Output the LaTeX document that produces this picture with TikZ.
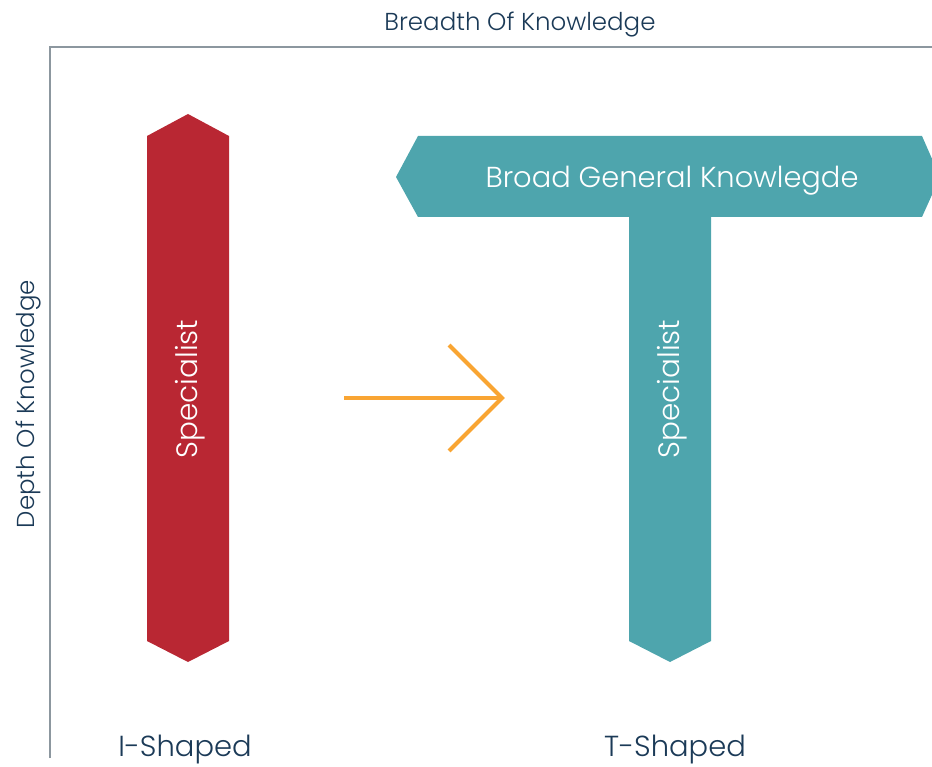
\documentclass[tikz,border=0pt]{standalone}
\usepackage{fontspec}
\IfFontExistsTF{Poppins Light}{\setmainfont{Poppins Light}}{\setmainfont{Poppins}}
\definecolor{barred}{HTML}{B92733}
\definecolor{barteal}{HTML}{4EA5AD}
\definecolor{arroworange}{HTML}{F9A533}
\definecolor{navytext}{HTML}{1B3A57}
\definecolor{axisgray}{HTML}{8C979F}
\begin{document}
\begin{tikzpicture}[x=1pt,y=-1pt,
  axisline/.style={draw=axisgray,line width=2pt},
  axislabel/.style={text=navytext,font=\fontsize{24.5}{28}\selectfont,inner sep=0pt},
  shapelabel/.style={text=navytext,font=\fontsize{29}{33}\selectfont,inner sep=0pt},
  barlabel/.style={text=white,font=\fontsize{29.5}{33}\selectfont,inner sep=0pt,rotate=90},
  movearrow/.style={draw=arroworange,line width=4pt}]
\useasboundingbox (0,0) rectangle (932,767);
% axes
\coordinate (ybottom) at (50,758);
\coordinate (origin) at (50,47);
\coordinate (xend) at (932,47);
\draw[axisline] (ybottom) -- (origin) -- (xend);
\node[axislabel] (breadth) at (520,25) {Breadth Of Knowledge};
\node[axislabel,rotate=90] (depth) at (29,404) {Depth Of Knowledge};
% I-shaped bar
\fill[barred] (147,136) -- (188,114) -- (229,136) -- (229,641) -- (188,662) -- (147,641) -- cycle;
\node[barlabel] (ispec) at (190,389) {Specialist};
% T-shaped bar
\fill[barteal] (418,136) -- (922,136) -- (940,177) -- (922,217) -- (711,217) -- (711,641) -- (670,662) -- (629,641) -- (629,217) -- (418,217) -- (396,177) -- cycle;
\node[text=white,font=\fontsize{28.9}{33}\selectfont,inner sep=0pt] (broad) at (672,181) {Broad General Knowlegde};
\node[barlabel] (tspec) at (672,389) {Specialist};
% arrow
\coordinate (astart) at (344,398);
\coordinate (atip) at (502,398);
\coordinate (aup) at (449,345);
\coordinate (adown) at (449,451);
\draw[movearrow] (astart) -- (atip);
\draw[movearrow,line join=miter] (aup) -- (atip) -- (adown);
% captions
\node[shapelabel] (ilabel) at (185,749.5) {I-Shaped};
\node[shapelabel] (tlabel) at (675,749.5) {T-Shaped};
\end{tikzpicture}
\end{document}
